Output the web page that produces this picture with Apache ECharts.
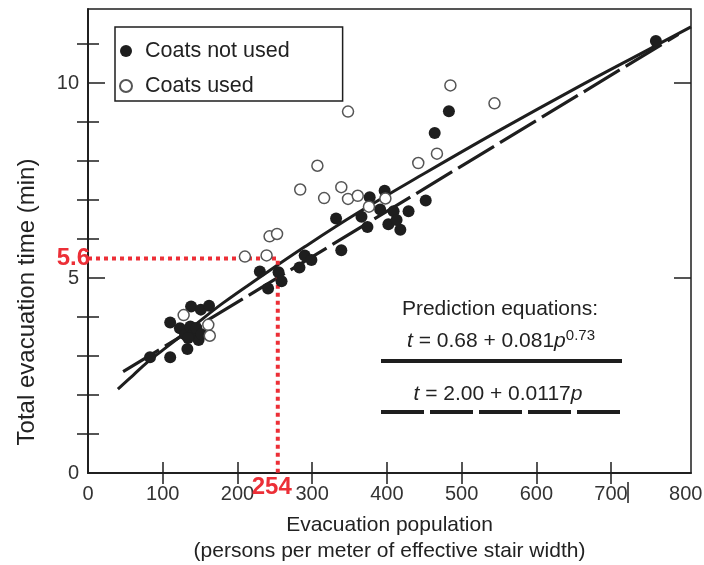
<!DOCTYPE html>
<html>
<head>
<meta charset="utf-8">
<script src="https://cdn.jsdelivr.net/npm/echarts@6/dist/echarts.min.js"></script>
<style>html,body{margin:0;padding:0;background:#fff}#c{width:704px;height:565px}</style>
</head>
<body>
<div id="c"></div>
<script>
// ---- data ----
const xTickLabels = [0, 100, 200, 300, 400, 500, 600, 700, 800];
const xTickMarks = [100, 200, 300, 400, 500, 600, 700];
const yTickLabels = [0, 5, 10];
const yMinorTicks = [1, 2, 3, 4, 6, 7, 8, 9, 11];
const yMajorTicks = [5, 10];
const coatsNotUsed = [
  [83,2.97],[110,2.97],[133,3.18],[110,3.86],[123,3.71],[130,3.55],[137,3.76],[141,3.58],[148,3.41],[134,3.46],[145,3.72],
  [138,4.27],[151,4.19],[162,4.29],[152,3.56],
  [230,5.17],[241,4.73],[255,5.15],[259,4.92],[283,5.27],[290,5.58],[299,5.46],[339,5.71],[332,6.53],[366,6.57],
  [377,7.07],[397,7.24],[374,6.31],[391,6.76],[409,6.71],[429,6.71],[402,6.38],[418,6.24],[413,6.49],[452,6.99],
  [464,8.72],[483,9.28],[760,11.08]
];
const coatsUsed = [
  [128,4.05],[161,3.80],[163,3.52],[210,5.55],[239,5.58],[243,6.07],[253,6.13],[284,7.27],[307,7.88],[316,7.05],
  [339,7.33],[348,7.03],[361,7.11],[348,9.27],[376,6.83],[398,7.04],[442,7.95],[467,8.19],[485,9.94],[544,9.48]
];
// solid prediction curve
const powerCurve = [
  [40,2.15],[60,2.50],[80,2.85],[100,3.15],[140,3.75],[180,4.35],[230,5.02],[290,5.80],[360,6.66],
  [450,7.68],[550,8.78],[650,9.84],[750,10.86],[807,11.44]
];
// dashed prediction line endpoints
const linearLine = [[47,2.60],[790,11.25]];
// red read-off guide
const readP = 254, readT = 5.5;
const readLabelP = '254', readLabelT = '5.6';

const FONT = 'Liberation Sans, Arial, Helvetica, sans-serif';
const INK = '#1e1e1e';
const RED = '#ec2f37';

const chart = echarts.init(document.getElementById('c'), null, {renderer: 'canvas'});

const X_MAX = 807, Y_MAX = 11.9;
function xBase(extra) {
  return Object.assign({
    type: 'value', min: 0, max: X_MAX, interval: 100, gridIndex: 0,
    splitLine: {show: false},
    axisLine: {show: true, lineStyle: {color: INK, width: 1.5}},
    axisTick: {show: true, inside: true, length: 11, customValues: xTickMarks, lineStyle: {color: INK, width: 1.5}}
  }, extra);
}
function yBase(extra) {
  return Object.assign({
    type: 'value', min: 0, max: Y_MAX, interval: 1, gridIndex: 0,
    splitLine: {show: false},
    axisLine: {show: true, lineStyle: {color: INK, width: 1.5}},
    axisTick: {show: true, inside: true, length: 11, customValues: yMinorTicks, lineStyle: {color: INK, width: 1.5}}
  }, extra);
}

const option = {
  animation: false,
  backgroundColor: '#fff',
  textStyle: {fontFamily: FONT},
  grid: {left: 88, top: 9, width: 603, height: 464, containLabel: false, outerBoundsMode: 'none',
         show: true, borderColor: INK, borderWidth: 1.5, backgroundColor: 'transparent'},
  legend: {
    orient: 'vertical', left: 115, top: 27,
    itemWidth: 28, itemHeight: 12, itemGap: 13,
    padding: [13, 53, 4, 4],
    borderColor: INK, borderWidth: 1.5,
    selectedMode: false,
    textStyle: {fontSize: 21.5, color: '#222', fontFamily: FONT},
    data: [{name: 'Coats not used', icon: 'circle'}, {name: 'Coats used', icon: 'circle'}]
  },
  xAxis: [
    xBase({
      position: 'bottom',
      name: 'Evacuation population\n(persons per meter of effective stair width)',
      nameLocation: 'middle', nameGap: 39,
      nameTextStyle: {fontSize: 21, color: '#222', lineHeight: 26, fontFamily: FONT},
      axisLabel: {fontSize: 20, color: '#333', margin: 11, fontFamily: FONT, customValues: xTickLabels}
    }),
    xBase({position: 'top', axisLabel: {show: false}})
  ],
  yAxis: [
    yBase({
      position: 'left',
      axisLabel: {fontSize: 20, color: '#333', margin: 9, fontFamily: FONT, customValues: yTickLabels}
    }),
    yBase({position: 'right', axisLabel: {show: false}}),
    yBase({position: 'left', axisLine: {show: false}, axisLabel: {show: false},
           axisTick: {show: true, inside: true, length: 17, customValues: yMajorTicks, lineStyle: {color: INK, width: 1.5}}}),
    yBase({position: 'right', axisLine: {show: false}, axisLabel: {show: false},
           axisTick: {show: true, inside: true, length: 17, customValues: yMajorTicks, lineStyle: {color: INK, width: 1.5}}})
  ],
  series: [
    {
      name: 'power', type: 'line', xAxisIndex: 0, yAxisIndex: 0, data: powerCurve,
      smooth: 0.4, showSymbol: false, silent: true, z: 2,
      lineStyle: {color: INK, width: 3}
    },
    {
      name: 'linear', type: 'line', xAxisIndex: 0, yAxisIndex: 0, data: linearLine,
      showSymbol: false, silent: true, z: 2,
      lineStyle: {color: INK, width: 3.2, type: [42, 7]}
    },
    {
      name: 'readoff', type: 'line', xAxisIndex: 0, yAxisIndex: 0, silent: true, z: 4,
      showSymbol: false, symbol: 'none',
      lineStyle: {color: RED, width: 4, type: [4, 4]},
      data: [[0, readT], [readP, readT], [readP, 0]]
    },
    {
      name: 'readoffLabels', type: 'scatter', xAxisIndex: 0, yAxisIndex: 0, silent: true, z: 7,
      symbolSize: 0, clip: false, itemStyle: {opacity: 1, color: RED},
      data: [
        {value: [0, readT], label: {show: true, position: 'left', distance: -2, formatter: readLabelT,
          fontSize: 24, fontWeight: 'bold', color: RED, opacity: 1, fontFamily: FONT}},
        {value: [readP, 0], label: {show: true, position: 'bottom', distance: 2, offset: [-6, 0], formatter: readLabelP,
          fontSize: 24, fontWeight: 'bold', color: RED, opacity: 1, fontFamily: FONT}}
      ]
    },
    {
      name: 'Coats not used', type: 'scatter', xAxisIndex: 0, yAxisIndex: 0, data: coatsNotUsed,
      symbol: 'circle', symbolSize: 12, z: 5,
      itemStyle: {color: INK, opacity: 1}
    },
    {
      name: 'Coats used', type: 'scatter', xAxisIndex: 0, yAxisIndex: 0, data: coatsUsed,
      symbol: 'circle', symbolSize: 11, z: 6,
      itemStyle: {color: '#fff', borderColor: '#555', borderWidth: 1.5, opacity: 1}
    }
  ],
  graphic: [
    {type: 'text', z: 10, rotation: Math.PI / 2, x: 27, y: 302,
      style: {x: 0, y: 0, text: 'Total evacuation time (min)', align: 'center', verticalAlign: 'middle',
        fontSize: 24, fontFamily: FONT, fill: '#222'}},
    {type: 'text', z: 10, style: {x: 500, y: 309, text: 'Prediction equations:', align: 'center', verticalAlign: 'middle',
      fontSize: 21, fontFamily: FONT, fill: '#222'}},
    {type: 'text', z: 10, style: {x: 501, y: 341, align: 'center', verticalAlign: 'middle',
      text: '{i|t} = 0.68 + 0.081{i|p}{s|0.73}',
      fontSize: 21, fontFamily: FONT, fill: '#222', lineHeight: 26,
      rich: {
        i: {fontStyle: 'italic', fontSize: 21, fontFamily: FONT, fill: '#222', lineHeight: 26},
        s: {fontSize: 15, fontFamily: FONT, fill: '#222', lineHeight: 14, verticalAlign: 'top'}
      }}},
    {type: 'line', z: 10, shape: {x1: 381, y1: 361, x2: 622, y2: 361}, style: {stroke: INK, lineWidth: 4}},
    {type: 'text', z: 10, style: {x: 498, y: 394, align: 'center', verticalAlign: 'middle',
      text: '{i|t} = 2.00 + 0.0117{i|p}',
      fontSize: 21, fontFamily: FONT, fill: '#222',
      rich: {i: {fontStyle: 'italic', fontSize: 21, fontFamily: FONT, fill: '#222'}}}},
    {type: 'line', z: 10, shape: {x1: 381, y1: 412, x2: 622, y2: 412}, style: {stroke: INK, lineWidth: 4, lineDash: [43, 6]}},
    {type: 'line', z: 10, shape: {x1: 628, y1: 482, x2: 628, y2: 503}, style: {stroke: INK, lineWidth: 1.5}}
  ]
};
chart.setOption(option);
</script>
</body>
</html>
